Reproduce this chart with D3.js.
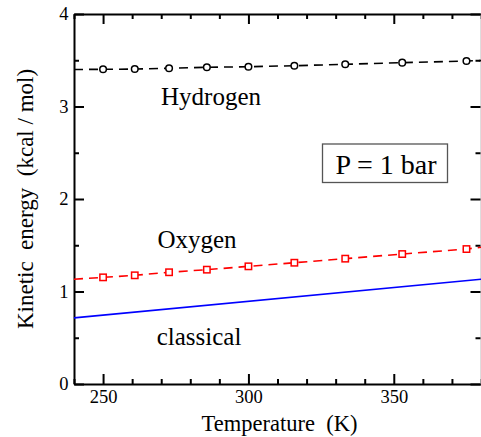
<!DOCTYPE html>
<html><head><meta charset="utf-8">
<script src="https://cdn.jsdelivr.net/npm/d3@7"></script>
</head>
<body style="margin:0">
<svg id="chart" width="481" height="437"></svg>
<script>
// ---- data ----
const temps = [250, 260.9, 272.7, 285.7, 300, 315.8, 333.3, 352.9, 375];
const hydrogen = [3.402, 3.405, 3.413, 3.424, 3.430, 3.441, 3.456, 3.474, 3.492];
const oxygen = [1.153, 1.175, 1.208, 1.236, 1.272, 1.311, 1.355, 1.405, 1.459];
const curveEndsT = [240, 380];
const hydrogenEnds = [3.400, 3.497];
const oxygenEnds = [1.133, 1.478];
const classicalT = [240, 380];
const classical = [0.715, 1.133];
const xTicks = [250, 300, 350];
const yTicks = [0, 1, 2, 3, 4];
const labels = ["Hydrogen", "Oxygen", "classical"];

// ---- layout ----
const svg = d3.select("#chart");
const L = 74, R = 481, T = 14, B = 384;
const x = d3.scaleLinear().domain([240, 380]).range([L, R]);
const y = d3.scaleLinear().domain([0, 4]).range([B, T]);

// text: placed with x/y only, anchored by measuring its length
function label(tx, ty, str, size, anchor, estW) {
  const t = svg.append("text")
    .attr("x", tx).attr("y", ty)
    .style("font-family", '"Liberation Serif"')
    .style("font-size", size + "px")
    .text(str);
  let w = 0;
  try { w = t.node().getComputedTextLength(); } catch (e) { w = 0; }
  if (!w) w = estW || 0;
  const shift = anchor === "end" ? w : anchor === "start" ? 0 : w / 2;
  t.attr("x", tx - shift);
  return t;
}

xTicks.forEach(v => label(x(v) + 0.5, 403, String(v), 18.5, "middle", 28));
yTicks.forEach(v => label(68.5, y(v) + 6, String(v), 18.5, "end", 9));
label((L + R) / 2 + 2, 431, "Temperature\u00a0\u00a0(K)", 22.5, "middle", 158);
label(211, 105, labels[0], 25, "middle", 100);
label(197, 248, labels[1], 25, "middle", 79);
label(199, 345, labels[2], 25, "middle", 85);

const yl = svg.append("text")
  .attr("x", 0).attr("y", 0)
  .style("font-family", '"Liberation Serif"')
  .style("font-size", "23px")
  .text("Kinetic\u00a0\u00a0energy\u00a0\u00a0(kcal / mol)");
let ylw = 0;
try { ylw = yl.node().getComputedTextLength(); } catch (e) { ylw = 0; }
if (!ylw) ylw = 265;
yl.attr("transform", `translate(33,${(T + B) / 2 + ylw / 2}) rotate(-90)`);

// axes (frame)
const minorX = d3.range(240, 381, 10);
const minorY = d3.range(0, 4.01, 0.5);
function isMajorX(v){ return v % 50 === 0; }
function isMajorY(v){ return Math.abs(v - Math.round(v)) < 1e-6; }

const axB = d3.axisBottom(x).tickValues(minorX).tickSize(0).tickFormat("");
const axT = d3.axisTop(x).tickValues(minorX).tickSize(0).tickFormat("");
const axL = d3.axisLeft(y).tickValues(minorY).tickSize(0).tickFormat("");
const axR = d3.axisRight(y).tickValues(minorY).tickSize(0).tickFormat("");

const gB = svg.append("g").attr("transform", `translate(0,${B})`).call(axB);
const gT = svg.append("g").attr("transform", `translate(0,${T})`).call(axT);
const gL = svg.append("g").attr("transform", `translate(${L},0)`).call(axL);
const gR = svg.append("g").attr("transform", `translate(${R - 0.5},0)`).call(axR);
[gB, gT, gL, gR].forEach(g => {
  g.attr("font-family", null).attr("font-size", null).attr("text-anchor", null);
  g.select(".domain").attr("stroke", "#000").attr("stroke-width", 2);
  g.selectAll("text").remove();
});
gB.selectAll(".tick line").attr("y2", d => isMajorX(d) ? -10 : -5).attr("stroke", "#000").attr("stroke-width", 2);
gT.selectAll(".tick line").attr("y2", d => isMajorX(d) ? 10 : 5).attr("stroke", "#000").attr("stroke-width", 2);
gL.selectAll(".tick line").attr("x2", d => isMajorY(d) ? 10 : 5).attr("stroke", "#000").attr("stroke-width", 2);
gR.selectAll(".tick line").attr("x2", d => isMajorY(d) ? -10 : -5).attr("stroke", "#000").attr("stroke-width", 2);
gR.select(".domain").attr("stroke", "#bbb").attr("stroke-width", 1);

// lines
const line = d3.line().x(d => x(d[0])).y(d => y(d[1]));
const hLine = [[curveEndsT[0], hydrogenEnds[0]], ...temps.map((t, i) => [t, hydrogen[i]]), [curveEndsT[1], hydrogenEnds[1]]];
const oLine = [[curveEndsT[0], oxygenEnds[0]], ...temps.map((t, i) => [t, oxygen[i]]), [curveEndsT[1], oxygenEnds[1]]];
const cLine = classicalT.map((t, i) => [t, classical[i]]);

svg.append("path").datum(cLine).attr("d", line)
  .attr("fill", "none").attr("stroke", "#0000ff").attr("stroke-width", 1.6);
svg.append("path").datum(oLine).attr("d", line)
  .attr("fill", "none").attr("stroke", "#ff0000").attr("stroke-width", 1.6)
  .attr("stroke-dasharray", "9,6");
svg.append("path").datum(hLine).attr("d", line)
  .attr("fill", "none").attr("stroke", "#000").attr("stroke-width", 1.6)
  .attr("stroke-dasharray", "9,6");

// markers
svg.append("g").selectAll("circle").data(temps.map((t, i) => [t, hydrogen[i]])).join("circle")
  .attr("cx", d => x(d[0])).attr("cy", d => y(d[1])).attr("r", 3.3)
  .attr("fill", "#fff").attr("stroke", "#000").attr("stroke-width", 1.5);
svg.append("g").selectAll("rect").data(temps.map((t, i) => [t, oxygen[i]])).join("rect")
  .attr("x", d => x(d[0]) - 3.2).attr("y", d => y(d[1]) - 3.2)
  .attr("width", 6.4).attr("height", 6.4)
  .attr("fill", "#fff").attr("stroke", "#ff0000").attr("stroke-width", 1.5);

// P box
svg.append("rect").attr("x", 322.5).attr("y", 144).attr("width", 125).attr("height", 38.5)
  .attr("fill", "#fff").attr("stroke", "#555").attr("stroke-width", 1.3);
label(386, 174, "P = 1 bar", 28, "middle", 102);
</script>
</body></html>
